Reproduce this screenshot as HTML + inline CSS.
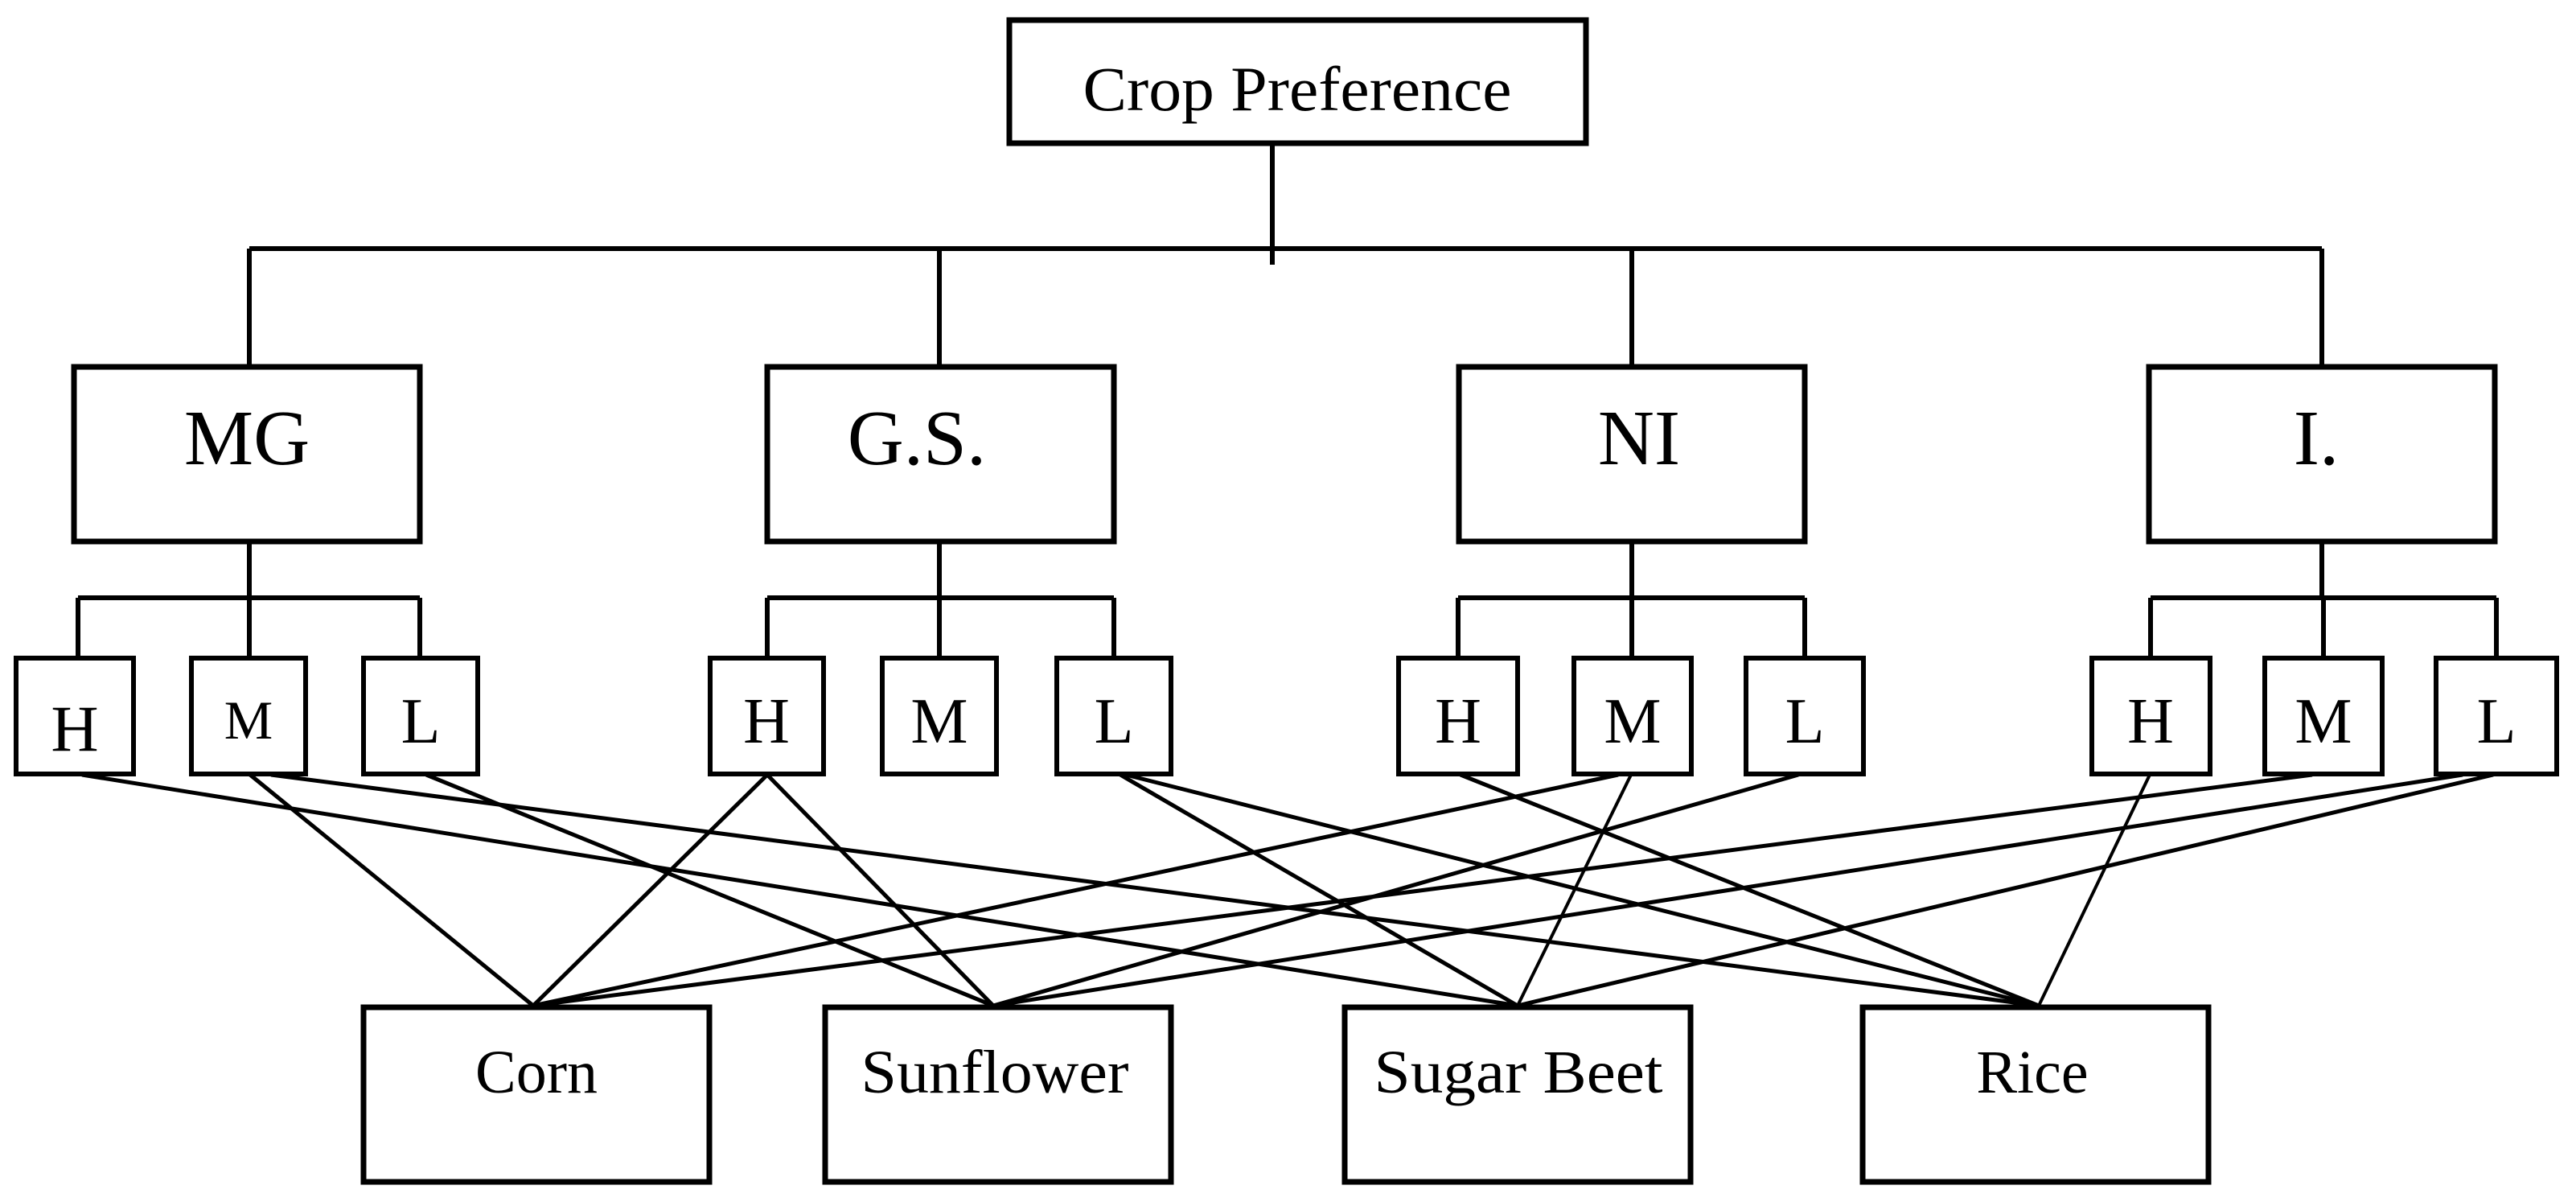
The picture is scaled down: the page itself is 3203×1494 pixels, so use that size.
<!DOCTYPE html>
<html><head><meta charset="utf-8"><style>html,body{margin:0;padding:0;background:#fff}svg{display:block}</style></head>
<body>
<svg width="3203" height="1494" viewBox="0 0 3203 1494" xmlns="http://www.w3.org/2000/svg" font-family="'Liberation Serif', serif" fill="#000">
<g fill="none" stroke="#000" stroke-width="7">
<rect x="1255" y="25" width="717" height="153"/>
<rect x="92" y="456" width="430" height="217"/>
<rect x="954" y="456" width="431" height="217"/>
<rect x="1814" y="456" width="430" height="217"/>
<rect x="2672" y="456" width="430" height="217"/>
<rect x="452" y="1252" width="430" height="217"/>
<rect x="1026" y="1252" width="430" height="217"/>
<rect x="1672" y="1252" width="430" height="217"/>
<rect x="2316" y="1252" width="430" height="217"/>
</g>
<g fill="none" stroke="#000" stroke-width="6">
<rect x="20" y="818" width="146" height="144"/><rect x="238" y="818" width="142" height="144"/><rect x="452" y="818" width="142" height="144"/>
<rect x="883" y="818" width="141" height="144"/><rect x="1097" y="818" width="142" height="144"/><rect x="1314" y="818" width="142" height="144"/>
<rect x="1739" y="818" width="148" height="144"/><rect x="1957" y="818" width="146" height="144"/><rect x="2171" y="818" width="146" height="144"/>
<rect x="2601" y="818" width="147" height="144"/><rect x="2816" y="818" width="146" height="144"/><rect x="3029" y="818" width="150" height="144"/>
<path d="M1582 178V329M310 309H2887M310 309V456M1168 309V456M2029 309V456M2887 309V456"/>
<path d="M310 673V743M97 743H522M97 743V818M310 743V818M522 743V818"/>
<path d="M1168 673V743M954 743H1385M954 743V818M1168 743V818M1385 743V818"/>
<path d="M2029 673V743M1813 743H2244M1813 743V818M2029 743V818M2244 743V818"/>
<path d="M2887 673V743M2674 743H3104M2674 743V818M2889 743V818M3104 743V818"/>
</g>
<g fill="none" stroke="#000" stroke-width="5">
<line x1="102" y1="963" x2="1887" y2="1250"/>
<line x1="311" y1="963" x2="663" y2="1250"/>
<line x1="337" y1="963" x2="2535" y2="1250"/>
<line x1="530" y1="963" x2="1235" y2="1250"/>
<line x1="954" y1="963" x2="663" y2="1250"/>
<line x1="954" y1="963" x2="1235" y2="1250"/>
<line x1="1393" y1="963" x2="1887" y2="1250"/>
<line x1="1400" y1="963" x2="2535" y2="1250"/>
<line x1="1816" y1="963" x2="2535" y2="1250"/>
<line x1="2012" y1="963" x2="663" y2="1250"/>
<line x1="2028" y1="963" x2="1887" y2="1250" stroke-width="4"/>
<line x1="2236" y1="963" x2="1235" y2="1250"/>
<line x1="2673" y1="963" x2="2535" y2="1250" stroke-width="4"/>
<line x1="2875" y1="963" x2="663" y2="1250"/>
<line x1="3062" y1="963" x2="1235" y2="1250"/>
<line x1="3100" y1="963" x2="1887" y2="1250"/>
</g>
<g text-anchor="middle">
<text x="1613" y="137" font-size="78" textLength="533" lengthAdjust="spacingAndGlyphs">Crop Preference</text>
<text x="307" y="577" font-size="97">MG</text>
<text x="1140" y="577" font-size="97">G.S.</text>
<text x="2038" y="577" font-size="97">NI</text>
<text x="2880" y="577" font-size="97">I.</text>
<text x="93" y="933" font-size="82">H</text>
<text x="309" y="918" font-size="68">M</text>
<text x="523" y="923" font-size="80">L</text>
<text x="953" y="923" font-size="80">H</text>
<text x="1168" y="923" font-size="80">M</text>
<text x="1385" y="923" font-size="80">L</text>
<text x="1813" y="923" font-size="80">H</text>
<text x="2030" y="923" font-size="80">M</text>
<text x="2244" y="923" font-size="80">L</text>
<text x="2674" y="923" font-size="80">H</text>
<text x="2889" y="923" font-size="80">M</text>
<text x="3104" y="923" font-size="80">L</text>
<text x="667" y="1358" font-size="76">Corn</text>
<text x="1237" y="1358" font-size="76" textLength="333" lengthAdjust="spacingAndGlyphs">Sunflower</text>
<text x="1888" y="1358" font-size="76" textLength="359" lengthAdjust="spacingAndGlyphs">Sugar Beet</text>
<text x="2527" y="1358" font-size="76">Rice</text>
</g>
</svg>
</body></html>
